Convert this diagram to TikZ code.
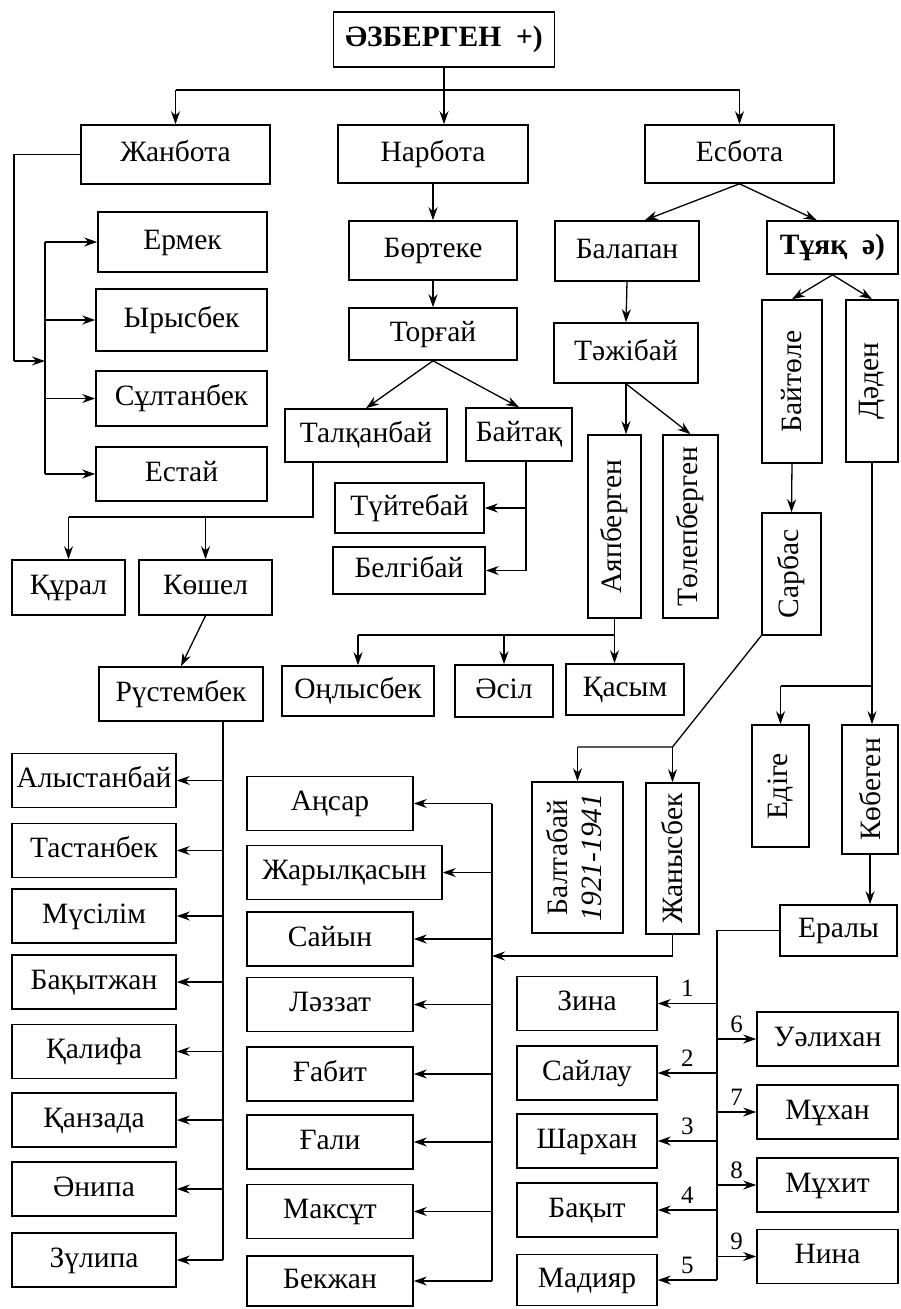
\documentclass[tikz,border=0pt]{standalone}
\usepackage{fontspec}
\setmainfont{Liberation Serif}
\usepackage{tikz}
\usetikzlibrary{arrows.meta,positioning,calc}

\begin{document}
\begin{tikzpicture}[x=1pt,y=-1pt,
    vbox/.style={rectangle,draw,line width=1.6pt,inner sep=0pt,font=\fontsize{29.5}{36}\selectfont},
    box/.style={vbox,text height=20pt,text depth=6pt},
    bbox/.style={box,font=\fontsize{29.5}{36}\selectfont\bfseries},
    arr/.style={-{Stealth[length=13pt,width=9pt]},line width=1.3pt},
    link/.style={line width=1.3pt},
    num/.style={font=\fontsize{25}{25}\selectfont,inner sep=1pt,above=5pt},
    lcol/.style={box,minimum width=164,minimum height=54},
    mcol/.style={box,minimum width=166,minimum height=54},
    rcol/.style={box,minimum width=140,minimum height=54},
    fcol/.style={box,minimum width=141,minimum height=54}]
    \path[fill=white] (0,0) rectangle (901,1309);

    % Root and first generation
    \node[bbox,minimum width=221,minimum height=55] (root) at (444,39.5) {ӘЗБЕРГЕН\ \ +)};
    \node[box,minimum width=189,minimum height=59] (jb) at (175.5,154.5) {Жанбота};
    \node[box,minimum width=190,minimum height=58] (narb) at (433,154) {Нарбота};
    \node[box,minimum width=189,minimum height=58] (esb) at (739.5,154) {Есбота};
    \coordinate (rbus) at (0,90);
    \draw[link] (root.south) -- (root.south |- rbus);
    \draw[link] (jb.north |- rbus) -- (esb.north |- rbus);
    \draw[arr] (jb.north |- rbus) -- (jb.north);
    \draw[arr] (root.south |- rbus) -- (root.south |- narb.north);
    \draw[arr] (esb.north |- rbus) -- (esb.north);

    % Zhanbota's sons
    \node[box,minimum width=169,minimum height=60] (erm) at (182.5,242) {Ермек};
    \node[box,minimum width=171,minimum height=62] (yrs) at (181.5,320) {Ырысбек};
    \node[box,minimum width=171,minimum height=55] (sult) at (181.5,398.5) {Сұлтанбек};
    \node[box,minimum width=171,minimum height=54] (est) at (181.5,474) {Естай};
    \coordinate (jbl) at (14,361);
    \coordinate (ibus) at (45,0);
    \draw[link] (jb.west) -| (jbl);
    \draw[arr] (jbl) -- (jbl -| ibus);
    \draw[link] (erm.west -| ibus) -- (est.west -| ibus);
    \draw[arr] (erm.west -| ibus) -- (erm.west);
    \draw[arr] (yrs.west -| ibus) -- (yrs.west);
    \draw[arr] (sult.west -| ibus) -- (sult.west);
    \draw[arr] (est.west -| ibus) -- (est.west);

    % Narbota line
    \node[box,minimum width=168,minimum height=59] (bort) at (433,250.5) {Бөртеке};
    \node[box,minimum width=168,minimum height=52] (torg) at (433,334) {Торғай};
    \node[box,minimum width=162,minimum height=53] (talq) at (366,435.5) {Талқанбай};
    \node[box,minimum width=106,minimum height=53] (baytaq) at (519,434.5) {Байтақ};
    \draw[arr] (narb.south) -- (bort.north);
    \draw[arr] (bort.south) -- (torg.north);
    \draw[arr] (torg.south) -- (talq.north);
    \draw[arr] (torg.south) -- (baytaq.north);

    \node[box,minimum width=149,minimum height=50] (tuyt) at (409.5,508) {Түйтебай};
    \node[box,minimum width=152,minimum height=47] (belg) at (409,570.5) {Белгібай};
    \coordinate (bbus) at (526,0);
    \draw[link] (bbus |- baytaq.south) -- (bbus |- belg.east);
    \draw[arr] (bbus |- tuyt.east) -- (tuyt.east);
    \draw[arr] (bbus |- belg.east) -- (belg.east);

    \node[box,minimum width=113,minimum height=55] (kural) at (68.5,587.5) {Құрал};
    \node[box,minimum width=133,minimum height=55] (kosh) at (205.5,587.5) {Көшел};
    \coordinate (tbus) at (313,517);
    \draw[link] (tbus |- talq.south) -- (tbus) -- (tbus -| kural.north);
    \draw[arr] (kural.north |- tbus) -- (kural.north);
    \draw[arr] (kosh.north |- tbus) -- (kosh.north);

    \node[box,minimum width=164,minimum height=54] (rust) at (181,694) {Рүстембек};
    \draw[arr] (kosh.south) -- (rust.north);

    % Rustembek's children
    \node[lcol] (alys) at (94,780.5) {Алыстанбай};
    \node[lcol] (tast) at (94,850.5) {Тастанбек};
    \node[lcol] (musil) at (94,916) {Мүсілім};
    \node[lcol] (bakzh) at (94,982) {Бақытжан};
    \node[lcol] (kalif) at (94,1051.5) {Қалифа};
    \node[lcol] (kanz) at (94,1120) {Қанзада};
    \node[lcol] (enip) at (94,1189) {Әнипа};
    \node[lcol] (zulip) at (94,1260) {Зүлипа};
    \coordinate (lbus) at (223,0);
    \draw[link] (rust.south -| lbus) -- (zulip.east -| lbus);
    \draw[arr] (alys.east -| lbus) -- (alys.east);
    \draw[arr] (tast.east -| lbus) -- (tast.east);
    \draw[arr] (musil.east -| lbus) -- (musil.east);
    \draw[arr] (bakzh.east -| lbus) -- (bakzh.east);
    \draw[arr] (kalif.east -| lbus) -- (kalif.east);
    \draw[arr] (kanz.east -| lbus) -- (kanz.east);
    \draw[arr] (enip.east -| lbus) -- (enip.east);
    \draw[arr] (zulip.east -| lbus) -- (zulip.east);

    % Esbota line
    \node[box,minimum width=144,minimum height=60] (bal) at (627,251) {Балапан};
    \node[bbox,minimum width=131,minimum height=53] (tuyaq) at (832.5,247.5) {Тұяқ\ \ ә)};
    \node[box,minimum width=144,minimum height=60] (taj) at (626,353) {Тәжібай};
    \draw[arr] (esb.south) -- (bal.60);
    \draw[arr] (esb.south) -- (tuyaq.120);
    \draw[arr] (bal.south) -- (taj.north);

    \node[vbox,minimum width=53,minimum height=183] (ayap) at (614.5,526.5) {\rotatebox{90}{Аяпберген}};
    \node[vbox,minimum width=55,minimum height=183] (tol) at (690.5,526.5) {\rotatebox{90}{Төлепберген}};
    \draw[arr] (taj.south) -- (taj.south |- ayap.north);
    \draw[arr] (taj.south) -- (tol.north);

    \node[box,minimum width=152,minimum height=50] (onl) at (358,691) {Оңлысбек};
    \node[box,minimum width=98,minimum height=52] (esil) at (504,691) {Әсіл};
    \node[box,minimum width=118,minimum height=51] (kasym) at (625,689.5) {Қасым};
    \coordinate (abus) at (0,635);
    \draw[link] (ayap.south) -- (ayap.south |- abus) -- (onl.north |- abus);
    \draw[arr] (onl.north |- abus) -- (onl.north);
    \draw[arr] (esil.north |- abus) -- (esil.north);
    \draw[arr] (ayap.south |- abus) -- (ayap.south |- kasym.north);

    % Tuyaq line
    \node[vbox,minimum width=60,minimum height=163] (baytole) at (792,381.5) {\rotatebox{90}{Байтөле}};
    \node[vbox,minimum width=52,minimum height=162] (daden) at (872,381) {\rotatebox{90}{Дәден}};
    \node[vbox,minimum width=59,minimum height=122] (sarb) at (791.5,574) {\rotatebox{90}{Сарбас}};
    \draw[arr] (tuyaq.south) -- (baytole.north);
    \draw[arr] (tuyaq.south) -- (daden.north);
    \draw[arr] (baytole.south) -- (sarb.north);

    \node[vbox,minimum width=91,minimum height=151] (balt) at (577.5,857.5)
        {\rotatebox{90}{\begin{tabular}{@{}c@{}}Балтабай\\[-2pt]\textit{1921-1941}\end{tabular}}};
    \node[vbox,minimum width=53,minimum height=151] (zhan) at (672.5,858.5) {\rotatebox{90}{Жанысбек}};
    \coordinate (sy) at (0,747);
    \draw[link] (sarb.south west) -- (zhan.north |- sy) -- (balt.north |- sy);
    \draw[arr] (balt.north |- sy) -- (balt.north);
    \draw[arr] (zhan.north |- sy) -- (zhan.north);

    \node[vbox,minimum width=57,minimum height=122] (edige) at (780.5,786) {\rotatebox{90}{Едіге}};
    \node[vbox,minimum width=56,minimum height=129] (kob) at (870,789.5) {\rotatebox{90}{Көбеген}};
    \coordinate (dy) at (0,686);
    \draw[link] (daden.south) -- (daden.south |- dy) -- (edige.north |- dy);
    \draw[arr] (edige.north |- dy) -- (edige.north);
    \draw[arr] (daden.south |- dy) -- (daden.south |- kob.north);

    \node[box,minimum width=117,minimum height=51] (eraly) at (838.5,930.5) {Ералы};
    \draw[arr] (kob.south) -- (kob.south |- eraly.north);

    % Zhanysbek's children
    \node[mcol] (ansar) at (330,803.5) {Аңсар};
    \node[box,minimum width=195,minimum height=54] (zhar) at (344.5,872.5) {Жарылқасын};
    \node[mcol] (sayn) at (330,939) {Сайын};
    \node[mcol] (lezz) at (330,1004.5) {Ләззат};
    \node[mcol] (gabit) at (330,1074) {Ғабит};
    \node[mcol] (gali) at (330,1142) {Ғали};
    \node[mcol] (maks) at (330,1211.5) {Максұт};
    \node[mcol,minimum height=50] (bekzh) at (330,1281) {Бекжан};
    \coordinate (mbus) at (492,956);
    \draw[arr] (zhan.south) |- (mbus);
    \draw[link] (ansar.east -| mbus) -- (bekzh.east -| mbus);
    \draw[arr] (ansar.east -| mbus) -- (ansar.east);
    \draw[arr] (zhar.east -| mbus) -- (zhar.east);
    \draw[arr] (sayn.east -| mbus) -- (sayn.east);
    \draw[arr] (lezz.east -| mbus) -- (lezz.east);
    \draw[arr] (gabit.east -| mbus) -- (gabit.east);
    \draw[arr] (gali.east -| mbus) -- (gali.east);
    \draw[arr] (maks.east -| mbus) -- (maks.east);
    \draw[arr] (bekzh.east -| mbus) -- (bekzh.east);

    % Eraly's children
    \node[rcol] (zina) at (587,1003.5) {Зина};
    \node[rcol] (sayl) at (587,1073) {Сайлау};
    \node[rcol] (shar) at (587,1141) {Шархан};
    \node[rcol] (bakyt) at (587,1210) {Бақыт};
    \node[rcol,minimum height=51] (madiyar) at (587,1280) {Мадияр};
    \node[fcol] (uel) at (827.5,1039) {Уәлихан};
    \node[fcol] (mukhan) at (827.5,1112) {Мұхан};
    \node[fcol] (mukhit) at (827.5,1185) {Мұхит};
    \node[fcol] (nina) at (827.5,1256.5) {Нина};
    \coordinate (ebus) at (717,0);
    \draw[link] (eraly.west) -- (eraly.west -| ebus) -- (madiyar.east -| ebus);
    \draw[arr] (zina.east -| ebus) -- (zina.east) node[num,midway] {1};
    \draw[arr] (sayl.east -| ebus) -- (sayl.east) node[num,midway] {2};
    \draw[arr] (shar.east -| ebus) -- (shar.east) node[num,midway] {3};
    \draw[arr] (bakyt.east -| ebus) -- (bakyt.east) node[num,midway] {4};
    \draw[arr] (madiyar.east -| ebus) -- (madiyar.east) node[num,midway] {5};
    \draw[arr] (uel.west -| ebus) -- (uel.west) node[num,midway] {6};
    \draw[arr] (mukhan.west -| ebus) -- (mukhan.west) node[num,midway] {7};
    \draw[arr] (mukhit.west -| ebus) -- (mukhit.west) node[num,midway] {8};
    \draw[arr] (nina.west -| ebus) -- (nina.west) node[num,midway] {9};
\end{tikzpicture}
\end{document}
